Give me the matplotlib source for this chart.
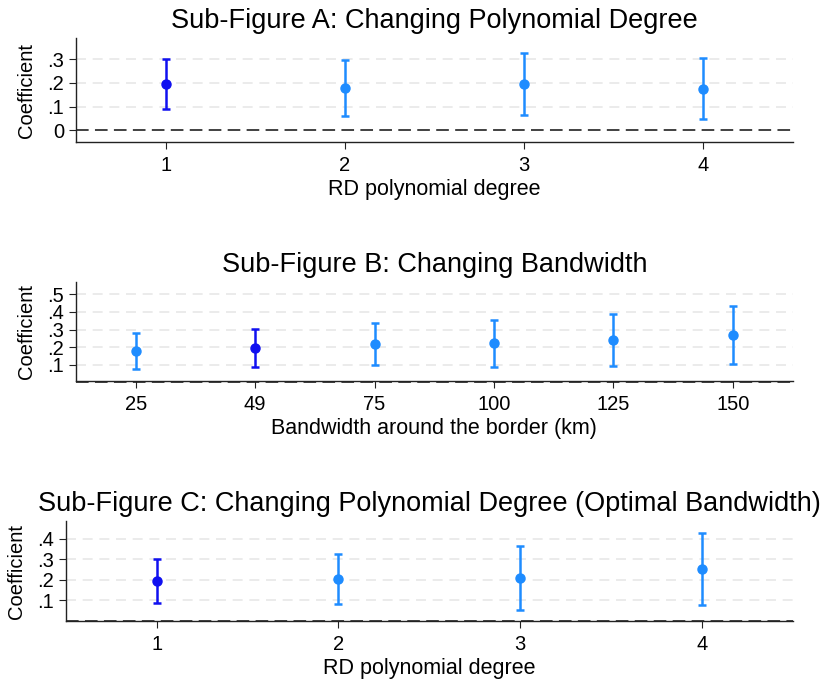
import numpy as np
import matplotlib.pyplot as plt
from matplotlib.ticker import FixedLocator, FuncFormatter

plt.rcParams['font.family'] = ['Liberation Sans', 'DejaVu Sans']

# Sub-figure A: polynomial degree
deg_labels = ['1', '2', '3', '4']
a_coef = [0.196, 0.179, 0.196, 0.176]
a_lo = [0.089, 0.061, 0.064, 0.046]
a_hi = [0.303, 0.296, 0.329, 0.306]

# Sub-figure B: bandwidth
bw_labels = ['25', '49', '75', '100', '125', '150']
b_coef = [0.177, 0.194, 0.218, 0.221, 0.243, 0.268]
b_lo = [0.077, 0.088, 0.097, 0.086, 0.095, 0.105]
b_hi = [0.280, 0.302, 0.337, 0.356, 0.389, 0.432]

# Sub-figure C: polynomial degree, optimal bandwidth
c_coef = [0.195, 0.203, 0.210, 0.250]
c_lo = [0.087, 0.084, 0.055, 0.076]
c_hi = [0.302, 0.326, 0.366, 0.426]

# which estimate is the baseline (dark blue)
a_base = 0
b_base = 1
c_base = 0

DARK = '#1010f0'
LIGHT = '#1e8cff'


def fmt(v, pos):
    if abs(v) < 1e-9:
        return '0'
    return ('%.1f' % v).replace('0.', '.')


def panel(ax, labels, coef, lo, hi, base, yticks, ylim, title, xlabel):
    x = np.arange(1, len(labels) + 1)
    coef = np.array(coef)
    lo = np.array(lo)
    hi = np.array(hi)
    for t in yticks:
        if t != 0:
            ax.axhline(t, color='#e8e8e8', lw=1.2, ls=(0, (6, 4)), zorder=0)
    ax.axhline(0, color='#333333', lw=1.3, ls=(0, (7, 3.5)), zorder=1, clip_on=False)
    for i in range(len(x)):
        c = DARK if i == base else LIGHT
        ax.errorbar(x[i], coef[i], yerr=[[coef[i] - lo[i]], [hi[i] - coef[i]]],
                    fmt='o', color=c, ms=6.5, elinewidth=1.8, capsize=3,
                    capthick=1.8, zorder=3)
    ax.set_xlim(0.5, len(labels) + 0.5)
    ax.set_ylim(*ylim)
    ax.set_xticks(x)
    ax.set_xticklabels(labels)
    ax.yaxis.set_major_locator(FixedLocator(yticks))
    ax.yaxis.set_major_formatter(FuncFormatter(fmt))
    for s in ['top', 'right']:
        ax.spines[s].set_visible(False)
    for s in ['left', 'bottom']:
        ax.spines[s].set_color('#222222')
        ax.spines[s].set_linewidth(1.0)
    ax.tick_params(axis='both', labelsize=14.5, length=5, color='#222222')
    ax.tick_params(axis='x', pad=5)
    ax.set_ylabel('Coefficient', fontsize=14.5, labelpad=8)
    ax.set_xlabel(xlabel, fontsize=15.5, labelpad=3)
    ax.set_title(title, fontsize=19.5, pad=7)


fig = plt.figure(figsize=(8.30, 6.81), dpi=100)
ax1 = fig.add_axes([0.0916, 0.7915, 0.8634, 0.1525])
ax2 = fig.add_axes([0.0916, 0.4405, 0.8634, 0.1455])
ax3 = fig.add_axes([0.0795, 0.088, 0.8755, 0.147])

panel(ax1, deg_labels, a_coef, a_lo, a_hi, a_base, [0, 0.1, 0.2, 0.3], (-0.05, 0.39),
      'Sub-Figure A: Changing Polynomial Degree', 'RD polynomial degree')
panel(ax2, bw_labels, b_coef, b_lo, b_hi, b_base, [0.1, 0.2, 0.3, 0.4, 0.5], (0.008, 0.57),
      'Sub-Figure B: Changing Bandwidth', 'Bandwidth around the border (km)')
panel(ax3, deg_labels, c_coef, c_lo, c_hi, c_base, [0.1, 0.2, 0.3, 0.4], (0.0, 0.485),
      'Sub-Figure C: Changing Polynomial Degree (Optimal Bandwidth)', 'RD polynomial degree')

plt.savefig('out.png', dpi=100)
